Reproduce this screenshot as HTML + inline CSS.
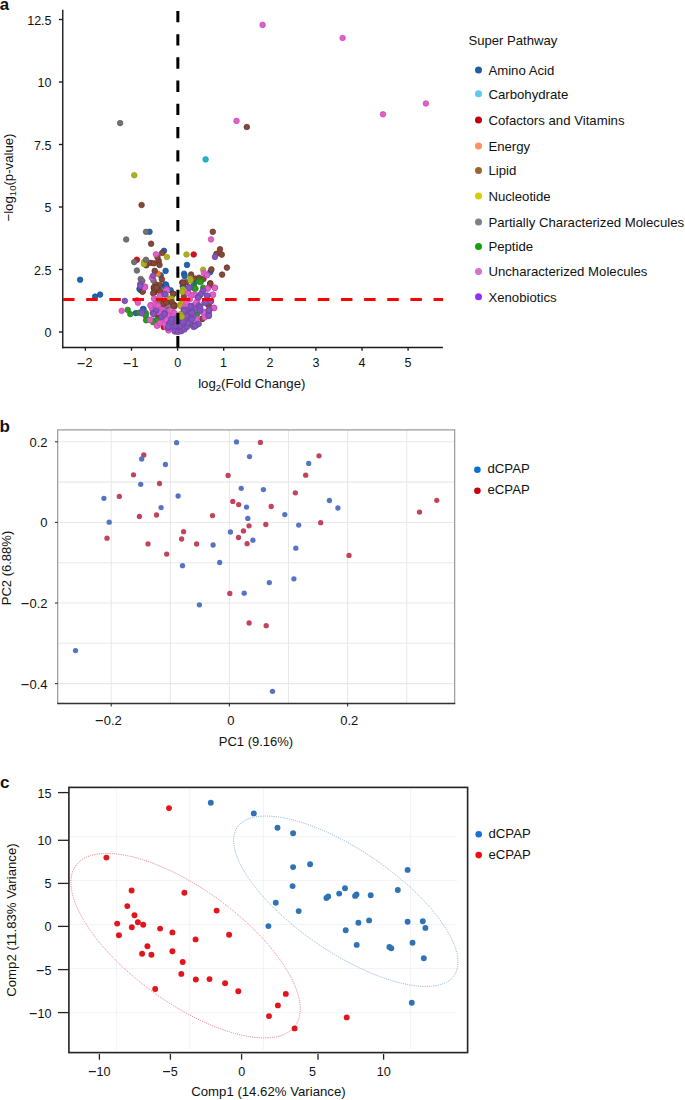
<!DOCTYPE html>
<html><head><meta charset="utf-8"><style>
html,body{margin:0;padding:0;background:#fff;}
svg{display:block;}
</style></head><body>
<svg width="685" height="1100" viewBox="0 0 685 1100" font-family='"Liberation Sans", sans-serif' fill="#111">
<rect width="685" height="1100" fill="#fff"/>
<text x="-0.35" y="10.11" font-size="16.8" font-weight="bold">a</text>
<line x1="62.75" y1="9.8" x2="62.75" y2="348.15" stroke="#2a2a2a" stroke-width="1.5"/>
<line x1="62.0" y1="347.4" x2="442.9" y2="347.4" stroke="#1a1a1a" stroke-width="1.5"/>
<line x1="58.9" y1="332.00" x2="62.75" y2="332.00" stroke="#1a1a1a" stroke-width="1.35"/>
<text x="44.56" y="337.48" font-size="12.5">0</text>
<line x1="58.9" y1="269.50" x2="62.75" y2="269.50" stroke="#1a1a1a" stroke-width="1.35"/>
<text x="34.12" y="274.98" font-size="12.5">2.5</text>
<line x1="58.9" y1="207.00" x2="62.75" y2="207.00" stroke="#1a1a1a" stroke-width="1.35"/>
<text x="44.56" y="212.47" font-size="12.5">5</text>
<line x1="58.9" y1="144.50" x2="62.75" y2="144.50" stroke="#1a1a1a" stroke-width="1.35"/>
<text x="34.12" y="149.97" font-size="12.5">7.5</text>
<line x1="58.9" y1="82.00" x2="62.75" y2="82.00" stroke="#1a1a1a" stroke-width="1.35"/>
<text x="37.62" y="87.47" font-size="12.5">10</text>
<line x1="58.9" y1="19.50" x2="62.75" y2="19.50" stroke="#1a1a1a" stroke-width="1.35"/>
<text x="27.19" y="24.98" font-size="12.5">12.5</text>
<line x1="85.40" y1="347.4" x2="85.40" y2="350.7" stroke="#1a1a1a" stroke-width="1.35"/>
<text x="85.43" y="367.48" font-size="12.5">2</text>
<rect x="77.58" y="363.05" width="7.10" height="1.15" fill="#111"/>
<line x1="131.50" y1="347.4" x2="131.50" y2="350.7" stroke="#1a1a1a" stroke-width="1.35"/>
<text x="131.43" y="367.48" font-size="12.5">1</text>
<rect x="123.58" y="363.05" width="7.10" height="1.15" fill="#111"/>
<line x1="177.60" y1="347.4" x2="177.60" y2="350.7" stroke="#1a1a1a" stroke-width="1.35"/>
<text x="174.28" y="367.48" font-size="12.5">0</text>
<line x1="223.70" y1="347.4" x2="223.70" y2="350.7" stroke="#1a1a1a" stroke-width="1.35"/>
<text x="220.03" y="367.48" font-size="12.5">1</text>
<line x1="269.80" y1="347.4" x2="269.80" y2="350.7" stroke="#1a1a1a" stroke-width="1.35"/>
<text x="266.53" y="367.48" font-size="12.5">2</text>
<line x1="315.90" y1="347.4" x2="315.90" y2="350.7" stroke="#1a1a1a" stroke-width="1.35"/>
<text x="312.53" y="367.48" font-size="12.5">3</text>
<line x1="362.00" y1="347.4" x2="362.00" y2="350.7" stroke="#1a1a1a" stroke-width="1.35"/>
<text x="358.53" y="367.48" font-size="12.5">4</text>
<line x1="408.10" y1="347.4" x2="408.10" y2="350.7" stroke="#1a1a1a" stroke-width="1.35"/>
<text x="404.53" y="367.48" font-size="12.5">5</text>
<text x="251.75" y="388.20" font-size="13.2" text-anchor="middle">log<tspan font-size="9.6" dy="3.2">2</tspan><tspan dy="-3.2">(Fold Change)</tspan></text>
<text transform="translate(12.60,177.50) rotate(-90)" font-size="13.2" text-anchor="middle">−log<tspan font-size="9.6" dy="3.2">10</tspan><tspan dy="-3.2">(p-value)</tspan></text>
<circle cx="80.1" cy="279.7" r="2.8" fill="#2264ac" stroke="#174f94" stroke-width="0.7"/>
<circle cx="95.1" cy="296.6" r="2.8" fill="#2264ac" stroke="#174f94" stroke-width="0.7"/>
<circle cx="100.1" cy="294.6" r="2.8" fill="#2264ac" stroke="#174f94" stroke-width="0.7"/>
<circle cx="149.5" cy="231.8" r="2.8" fill="#2264ac" stroke="#174f94" stroke-width="0.7"/>
<circle cx="164.0" cy="250.8" r="2.8" fill="#2264ac" stroke="#174f94" stroke-width="0.7"/>
<circle cx="165.6" cy="270.9" r="2.8" fill="#2264ac" stroke="#174f94" stroke-width="0.7"/>
<circle cx="160.7" cy="275.3" r="2.8" fill="#2264ac" stroke="#174f94" stroke-width="0.7"/>
<circle cx="165.2" cy="284.6" r="2.8" fill="#2264ac" stroke="#174f94" stroke-width="0.7"/>
<circle cx="166.8" cy="287.4" r="2.8" fill="#2264ac" stroke="#174f94" stroke-width="0.7"/>
<circle cx="139.5" cy="289.0" r="2.8" fill="#2264ac" stroke="#174f94" stroke-width="0.7"/>
<circle cx="187.0" cy="264.9" r="2.8" fill="#2264ac" stroke="#174f94" stroke-width="0.7"/>
<circle cx="210.3" cy="272.1" r="2.8" fill="#2264ac" stroke="#174f94" stroke-width="0.7"/>
<circle cx="184.1" cy="273.7" r="2.8" fill="#2264ac" stroke="#174f94" stroke-width="0.7"/>
<circle cx="184.6" cy="276.1" r="2.8" fill="#2264ac" stroke="#174f94" stroke-width="0.7"/>
<circle cx="183.0" cy="285.8" r="2.8" fill="#2264ac" stroke="#174f94" stroke-width="0.7"/>
<circle cx="135.8" cy="313.1" r="2.8" fill="#2264ac" stroke="#174f94" stroke-width="0.7"/>
<circle cx="143.1" cy="309.1" r="2.8" fill="#2264ac" stroke="#174f94" stroke-width="0.7"/>
<circle cx="140.7" cy="290.2" r="2.8" fill="#2264ac" stroke="#174f94" stroke-width="0.7"/>
<circle cx="140.4" cy="288.5" r="2.8" fill="#2264ac" stroke="#174f94" stroke-width="0.7"/>
<circle cx="158.8" cy="289.0" r="2.8" fill="#2264ac" stroke="#174f94" stroke-width="0.7"/>
<circle cx="164.5" cy="286.3" r="2.8" fill="#2264ac" stroke="#174f94" stroke-width="0.7"/>
<circle cx="159.7" cy="303.0" r="2.8" fill="#2264ac" stroke="#174f94" stroke-width="0.7"/>
<circle cx="143.5" cy="309.1" r="2.8" fill="#2264ac" stroke="#174f94" stroke-width="0.7"/>
<circle cx="166.0" cy="284.6" r="2.8" fill="#2264ac" stroke="#174f94" stroke-width="0.7"/>
<circle cx="170.6" cy="290.2" r="2.8" fill="#2264ac" stroke="#174f94" stroke-width="0.7"/>
<circle cx="182.9" cy="286.6" r="2.8" fill="#2264ac" stroke="#174f94" stroke-width="0.7"/>
<circle cx="194.1" cy="283.6" r="2.8" fill="#2264ac" stroke="#174f94" stroke-width="0.7"/>
<circle cx="205.6" cy="159.4" r="2.8" fill="#22b4cc" stroke="#12a0b8" stroke-width="0.7"/>
<circle cx="136.9" cy="259.7" r="2.8" fill="#d0141e" stroke="#b80010" stroke-width="0.7"/>
<circle cx="193.7" cy="254.5" r="2.8" fill="#d0141e" stroke="#b80010" stroke-width="0.7"/>
<circle cx="164.4" cy="326.8" r="2.8" fill="#d0141e" stroke="#b80010" stroke-width="0.7"/>
<circle cx="158.4" cy="313.9" r="2.8" fill="#d0141e" stroke="#b80010" stroke-width="0.7"/>
<circle cx="157.5" cy="315.5" r="2.8" fill="#d0141e" stroke="#b80010" stroke-width="0.7"/>
<circle cx="163.7" cy="326.9" r="2.8" fill="#d0141e" stroke="#b80010" stroke-width="0.7"/>
<circle cx="157.9" cy="273.7" r="2.8" fill="#f8801e" stroke="#e06a10" stroke-width="0.7"/>
<circle cx="246.8" cy="127.0" r="2.8" fill="#834a3c" stroke="#6a2c22" stroke-width="0.7"/>
<circle cx="141.6" cy="205.0" r="2.8" fill="#834a3c" stroke="#6a2c22" stroke-width="0.7"/>
<circle cx="151.1" cy="243.7" r="2.8" fill="#834a3c" stroke="#6a2c22" stroke-width="0.7"/>
<circle cx="162.1" cy="253.0" r="2.8" fill="#834a3c" stroke="#6a2c22" stroke-width="0.7"/>
<circle cx="146.3" cy="265.3" r="2.8" fill="#834a3c" stroke="#6a2c22" stroke-width="0.7"/>
<circle cx="150.7" cy="262.9" r="2.8" fill="#834a3c" stroke="#6a2c22" stroke-width="0.7"/>
<circle cx="153.9" cy="263.3" r="2.8" fill="#834a3c" stroke="#6a2c22" stroke-width="0.7"/>
<circle cx="158.7" cy="260.9" r="2.8" fill="#834a3c" stroke="#6a2c22" stroke-width="0.7"/>
<circle cx="159.5" cy="264.9" r="2.8" fill="#834a3c" stroke="#6a2c22" stroke-width="0.7"/>
<circle cx="157.5" cy="257.3" r="2.8" fill="#834a3c" stroke="#6a2c22" stroke-width="0.7"/>
<circle cx="154.7" cy="270.9" r="2.8" fill="#834a3c" stroke="#6a2c22" stroke-width="0.7"/>
<circle cx="161.9" cy="279.4" r="2.8" fill="#834a3c" stroke="#6a2c22" stroke-width="0.7"/>
<circle cx="155.5" cy="284.2" r="2.8" fill="#834a3c" stroke="#6a2c22" stroke-width="0.7"/>
<circle cx="153.9" cy="288.2" r="2.8" fill="#834a3c" stroke="#6a2c22" stroke-width="0.7"/>
<circle cx="159.5" cy="285.0" r="2.8" fill="#834a3c" stroke="#6a2c22" stroke-width="0.7"/>
<circle cx="212.8" cy="231.8" r="2.8" fill="#834a3c" stroke="#6a2c22" stroke-width="0.7"/>
<circle cx="220.0" cy="249.2" r="2.8" fill="#834a3c" stroke="#6a2c22" stroke-width="0.7"/>
<circle cx="216.4" cy="253.9" r="2.8" fill="#834a3c" stroke="#6a2c22" stroke-width="0.7"/>
<circle cx="221.8" cy="254.6" r="2.8" fill="#834a3c" stroke="#6a2c22" stroke-width="0.7"/>
<circle cx="226.9" cy="267.6" r="2.8" fill="#834a3c" stroke="#6a2c22" stroke-width="0.7"/>
<circle cx="222.1" cy="274.6" r="2.8" fill="#834a3c" stroke="#6a2c22" stroke-width="0.7"/>
<circle cx="211.4" cy="269.4" r="2.8" fill="#834a3c" stroke="#6a2c22" stroke-width="0.7"/>
<circle cx="191.1" cy="274.5" r="2.8" fill="#834a3c" stroke="#6a2c22" stroke-width="0.7"/>
<circle cx="195.1" cy="278.6" r="2.8" fill="#834a3c" stroke="#6a2c22" stroke-width="0.7"/>
<circle cx="199.1" cy="277.7" r="2.8" fill="#834a3c" stroke="#6a2c22" stroke-width="0.7"/>
<circle cx="203.5" cy="279.0" r="2.8" fill="#834a3c" stroke="#6a2c22" stroke-width="0.7"/>
<circle cx="182.2" cy="282.5" r="2.8" fill="#834a3c" stroke="#6a2c22" stroke-width="0.7"/>
<circle cx="186.2" cy="282.2" r="2.8" fill="#834a3c" stroke="#6a2c22" stroke-width="0.7"/>
<circle cx="210.3" cy="283.3" r="2.8" fill="#834a3c" stroke="#6a2c22" stroke-width="0.7"/>
<circle cx="154.7" cy="292.2" r="2.8" fill="#834a3c" stroke="#6a2c22" stroke-width="0.7"/>
<circle cx="153.9" cy="287.4" r="2.8" fill="#834a3c" stroke="#6a2c22" stroke-width="0.7"/>
<circle cx="160.3" cy="291.4" r="2.8" fill="#834a3c" stroke="#6a2c22" stroke-width="0.7"/>
<circle cx="173.2" cy="293.8" r="2.8" fill="#834a3c" stroke="#6a2c22" stroke-width="0.7"/>
<circle cx="173.2" cy="305.1" r="2.8" fill="#834a3c" stroke="#6a2c22" stroke-width="0.7"/>
<circle cx="162.8" cy="303.9" r="2.8" fill="#834a3c" stroke="#6a2c22" stroke-width="0.7"/>
<circle cx="142.7" cy="291.4" r="2.8" fill="#834a3c" stroke="#6a2c22" stroke-width="0.7"/>
<circle cx="210.2" cy="285.4" r="2.8" fill="#834a3c" stroke="#6a2c22" stroke-width="0.7"/>
<circle cx="207.8" cy="304.3" r="2.8" fill="#834a3c" stroke="#6a2c22" stroke-width="0.7"/>
<circle cx="202.5" cy="318.7" r="2.8" fill="#834a3c" stroke="#6a2c22" stroke-width="0.7"/>
<circle cx="174.0" cy="305.1" r="2.8" fill="#834a3c" stroke="#6a2c22" stroke-width="0.7"/>
<circle cx="142.6" cy="291.6" r="2.8" fill="#834a3c" stroke="#6a2c22" stroke-width="0.7"/>
<circle cx="154.5" cy="290.3" r="2.8" fill="#834a3c" stroke="#6a2c22" stroke-width="0.7"/>
<circle cx="153.1" cy="293.3" r="2.8" fill="#834a3c" stroke="#6a2c22" stroke-width="0.7"/>
<circle cx="156.6" cy="287.6" r="2.8" fill="#834a3c" stroke="#6a2c22" stroke-width="0.7"/>
<circle cx="161.9" cy="303.8" r="2.8" fill="#834a3c" stroke="#6a2c22" stroke-width="0.7"/>
<circle cx="174.2" cy="306.5" r="2.8" fill="#834a3c" stroke="#6a2c22" stroke-width="0.7"/>
<circle cx="173.2" cy="293.8" r="2.8" fill="#834a3c" stroke="#6a2c22" stroke-width="0.7"/>
<circle cx="174.7" cy="305.5" r="2.8" fill="#834a3c" stroke="#6a2c22" stroke-width="0.7"/>
<circle cx="182.9" cy="282.6" r="2.8" fill="#834a3c" stroke="#6a2c22" stroke-width="0.7"/>
<circle cx="183.9" cy="296.4" r="2.8" fill="#834a3c" stroke="#6a2c22" stroke-width="0.7"/>
<circle cx="210.3" cy="283.6" r="2.8" fill="#834a3c" stroke="#6a2c22" stroke-width="0.7"/>
<circle cx="208.8" cy="305.0" r="2.8" fill="#834a3c" stroke="#6a2c22" stroke-width="0.7"/>
<circle cx="202.3" cy="318.8" r="2.8" fill="#834a3c" stroke="#6a2c22" stroke-width="0.7"/>
<circle cx="134.3" cy="175.2" r="2.8" fill="#acb020" stroke="#989c10" stroke-width="0.7"/>
<circle cx="166.9" cy="257.0" r="2.8" fill="#acb020" stroke="#989c10" stroke-width="0.7"/>
<circle cx="144.3" cy="261.7" r="2.8" fill="#acb020" stroke="#989c10" stroke-width="0.7"/>
<circle cx="143.9" cy="264.1" r="2.8" fill="#acb020" stroke="#989c10" stroke-width="0.7"/>
<circle cx="186.5" cy="254.5" r="2.8" fill="#acb020" stroke="#989c10" stroke-width="0.7"/>
<circle cx="203.1" cy="269.7" r="2.8" fill="#acb020" stroke="#989c10" stroke-width="0.7"/>
<circle cx="190.4" cy="278.7" r="2.8" fill="#acb020" stroke="#989c10" stroke-width="0.7"/>
<circle cx="183.0" cy="289.4" r="2.8" fill="#acb020" stroke="#989c10" stroke-width="0.7"/>
<circle cx="170.8" cy="299.1" r="2.8" fill="#acb020" stroke="#989c10" stroke-width="0.7"/>
<circle cx="182.9" cy="291.4" r="2.8" fill="#acb020" stroke="#989c10" stroke-width="0.7"/>
<circle cx="171.6" cy="298.7" r="2.8" fill="#acb020" stroke="#989c10" stroke-width="0.7"/>
<circle cx="180.4" cy="304.3" r="2.8" fill="#acb020" stroke="#989c10" stroke-width="0.7"/>
<circle cx="181.2" cy="314.7" r="2.8" fill="#acb020" stroke="#989c10" stroke-width="0.7"/>
<circle cx="169.3" cy="298.6" r="2.8" fill="#acb020" stroke="#989c10" stroke-width="0.7"/>
<circle cx="180.3" cy="314.2" r="2.8" fill="#acb020" stroke="#989c10" stroke-width="0.7"/>
<circle cx="175.2" cy="315.2" r="2.8" fill="#acb020" stroke="#989c10" stroke-width="0.7"/>
<circle cx="181.4" cy="306.0" r="2.8" fill="#acb020" stroke="#989c10" stroke-width="0.7"/>
<circle cx="170.6" cy="298.9" r="2.8" fill="#acb020" stroke="#989c10" stroke-width="0.7"/>
<circle cx="190.5" cy="280.5" r="2.8" fill="#acb020" stroke="#989c10" stroke-width="0.7"/>
<circle cx="182.4" cy="291.8" r="2.8" fill="#acb020" stroke="#989c10" stroke-width="0.7"/>
<circle cx="181.9" cy="303.5" r="2.8" fill="#acb020" stroke="#989c10" stroke-width="0.7"/>
<circle cx="180.8" cy="306.1" r="2.8" fill="#acb020" stroke="#989c10" stroke-width="0.7"/>
<circle cx="120.1" cy="123.1" r="2.8" fill="#727272" stroke="#5a5a5a" stroke-width="0.7"/>
<circle cx="126.2" cy="239.5" r="2.8" fill="#727272" stroke="#5a5a5a" stroke-width="0.7"/>
<circle cx="146.0" cy="231.8" r="2.8" fill="#727272" stroke="#5a5a5a" stroke-width="0.7"/>
<circle cx="134.2" cy="262.1" r="2.8" fill="#727272" stroke="#5a5a5a" stroke-width="0.7"/>
<circle cx="146.0" cy="259.7" r="2.8" fill="#727272" stroke="#5a5a5a" stroke-width="0.7"/>
<circle cx="136.9" cy="270.5" r="2.8" fill="#727272" stroke="#5a5a5a" stroke-width="0.7"/>
<circle cx="153.5" cy="280.6" r="2.8" fill="#727272" stroke="#5a5a5a" stroke-width="0.7"/>
<circle cx="140.7" cy="279.0" r="2.8" fill="#727272" stroke="#5a5a5a" stroke-width="0.7"/>
<circle cx="142.3" cy="281.0" r="2.8" fill="#727272" stroke="#5a5a5a" stroke-width="0.7"/>
<circle cx="127.7" cy="309.9" r="2.8" fill="#2c9a24" stroke="#208418" stroke-width="0.7"/>
<circle cx="130.3" cy="314.1" r="2.8" fill="#2c9a24" stroke="#208418" stroke-width="0.7"/>
<circle cx="200.7" cy="281.3" r="2.8" fill="#2c9a24" stroke="#208418" stroke-width="0.7"/>
<circle cx="193.9" cy="287.0" r="2.8" fill="#2c9a24" stroke="#208418" stroke-width="0.7"/>
<circle cx="139.1" cy="312.7" r="2.8" fill="#2c9a24" stroke="#208418" stroke-width="0.7"/>
<circle cx="145.5" cy="315.1" r="2.8" fill="#2c9a24" stroke="#208418" stroke-width="0.7"/>
<circle cx="146.7" cy="319.5" r="2.8" fill="#2c9a24" stroke="#208418" stroke-width="0.7"/>
<circle cx="153.1" cy="320.7" r="2.8" fill="#2c9a24" stroke="#208418" stroke-width="0.7"/>
<circle cx="157.1" cy="320.3" r="2.8" fill="#2c9a24" stroke="#208418" stroke-width="0.7"/>
<circle cx="165.2" cy="304.7" r="2.8" fill="#2c9a24" stroke="#208418" stroke-width="0.7"/>
<circle cx="194.1" cy="288.2" r="2.8" fill="#2c9a24" stroke="#208418" stroke-width="0.7"/>
<circle cx="165.4" cy="303.4" r="2.8" fill="#2c9a24" stroke="#208418" stroke-width="0.7"/>
<circle cx="158.8" cy="301.6" r="2.8" fill="#2c9a24" stroke="#208418" stroke-width="0.7"/>
<circle cx="168.0" cy="308.7" r="2.8" fill="#2c9a24" stroke="#208418" stroke-width="0.7"/>
<circle cx="145.7" cy="313.0" r="2.8" fill="#2c9a24" stroke="#208418" stroke-width="0.7"/>
<circle cx="145.7" cy="315.5" r="2.8" fill="#2c9a24" stroke="#208418" stroke-width="0.7"/>
<circle cx="146.1" cy="320.3" r="2.8" fill="#2c9a24" stroke="#208418" stroke-width="0.7"/>
<circle cx="156.2" cy="320.8" r="2.8" fill="#2c9a24" stroke="#208418" stroke-width="0.7"/>
<circle cx="153.1" cy="322.1" r="2.8" fill="#2c9a24" stroke="#208418" stroke-width="0.7"/>
<circle cx="169.6" cy="308.6" r="2.8" fill="#2c9a24" stroke="#208418" stroke-width="0.7"/>
<circle cx="196.7" cy="314.7" r="2.8" fill="#2c9a24" stroke="#208418" stroke-width="0.7"/>
<circle cx="191.6" cy="324.4" r="2.8" fill="#2c9a24" stroke="#208418" stroke-width="0.7"/>
<circle cx="182.4" cy="317.8" r="2.8" fill="#2c9a24" stroke="#208418" stroke-width="0.7"/>
<circle cx="194.1" cy="288.2" r="2.8" fill="#2c9a24" stroke="#208418" stroke-width="0.7"/>
<circle cx="198.7" cy="281.5" r="2.8" fill="#2c9a24" stroke="#208418" stroke-width="0.7"/>
<circle cx="200.6" cy="282.0" r="2.8" fill="#2c9a24" stroke="#208418" stroke-width="0.7"/>
<circle cx="195.5" cy="288.7" r="2.8" fill="#2c9a24" stroke="#208418" stroke-width="0.7"/>
<circle cx="203.2" cy="287.7" r="2.8" fill="#2c9a24" stroke="#208418" stroke-width="0.7"/>
<circle cx="196.6" cy="314.7" r="2.8" fill="#2c9a24" stroke="#208418" stroke-width="0.7"/>
<circle cx="191.5" cy="324.4" r="2.8" fill="#2c9a24" stroke="#208418" stroke-width="0.7"/>
<circle cx="262.6" cy="24.9" r="2.8" fill="#dc62c6" stroke="#cc44b4" stroke-width="0.7"/>
<circle cx="342.6" cy="38.0" r="2.8" fill="#dc62c6" stroke="#cc44b4" stroke-width="0.7"/>
<circle cx="383.0" cy="114.3" r="2.8" fill="#dc62c6" stroke="#cc44b4" stroke-width="0.7"/>
<circle cx="425.9" cy="103.5" r="2.8" fill="#dc62c6" stroke="#cc44b4" stroke-width="0.7"/>
<circle cx="236.5" cy="120.9" r="2.8" fill="#dc62c6" stroke="#cc44b4" stroke-width="0.7"/>
<circle cx="121.7" cy="310.8" r="2.8" fill="#dc62c6" stroke="#cc44b4" stroke-width="0.7"/>
<circle cx="155.9" cy="254.3" r="2.8" fill="#dc62c6" stroke="#cc44b4" stroke-width="0.7"/>
<circle cx="151.9" cy="277.8" r="2.8" fill="#dc62c6" stroke="#cc44b4" stroke-width="0.7"/>
<circle cx="145.1" cy="286.6" r="2.8" fill="#dc62c6" stroke="#cc44b4" stroke-width="0.7"/>
<circle cx="166.8" cy="289.4" r="2.8" fill="#dc62c6" stroke="#cc44b4" stroke-width="0.7"/>
<circle cx="211.0" cy="239.4" r="2.8" fill="#dc62c6" stroke="#cc44b4" stroke-width="0.7"/>
<circle cx="203.9" cy="272.9" r="2.8" fill="#dc62c6" stroke="#cc44b4" stroke-width="0.7"/>
<circle cx="207.1" cy="275.3" r="2.8" fill="#dc62c6" stroke="#cc44b4" stroke-width="0.7"/>
<circle cx="207.4" cy="288.2" r="2.8" fill="#dc62c6" stroke="#cc44b4" stroke-width="0.7"/>
<circle cx="214.9" cy="287.6" r="2.8" fill="#dc62c6" stroke="#cc44b4" stroke-width="0.7"/>
<circle cx="137.0" cy="300.3" r="2.8" fill="#dc62c6" stroke="#cc44b4" stroke-width="0.7"/>
<circle cx="137.9" cy="302.7" r="2.8" fill="#dc62c6" stroke="#cc44b4" stroke-width="0.7"/>
<circle cx="149.9" cy="319.9" r="2.8" fill="#dc62c6" stroke="#cc44b4" stroke-width="0.7"/>
<circle cx="157.1" cy="325.6" r="2.8" fill="#dc62c6" stroke="#cc44b4" stroke-width="0.7"/>
<circle cx="150.7" cy="305.1" r="2.8" fill="#dc62c6" stroke="#cc44b4" stroke-width="0.7"/>
<circle cx="154.7" cy="299.1" r="2.8" fill="#dc62c6" stroke="#cc44b4" stroke-width="0.7"/>
<circle cx="158.7" cy="305.9" r="2.8" fill="#dc62c6" stroke="#cc44b4" stroke-width="0.7"/>
<circle cx="160.3" cy="296.2" r="2.8" fill="#dc62c6" stroke="#cc44b4" stroke-width="0.7"/>
<circle cx="166.8" cy="290.2" r="2.8" fill="#dc62c6" stroke="#cc44b4" stroke-width="0.7"/>
<circle cx="168.0" cy="303.9" r="2.8" fill="#dc62c6" stroke="#cc44b4" stroke-width="0.7"/>
<circle cx="161.9" cy="316.3" r="2.8" fill="#dc62c6" stroke="#cc44b4" stroke-width="0.7"/>
<circle cx="170.0" cy="312.3" r="2.8" fill="#dc62c6" stroke="#cc44b4" stroke-width="0.7"/>
<circle cx="173.2" cy="312.3" r="2.8" fill="#dc62c6" stroke="#cc44b4" stroke-width="0.7"/>
<circle cx="166.0" cy="319.5" r="2.8" fill="#dc62c6" stroke="#cc44b4" stroke-width="0.7"/>
<circle cx="144.7" cy="287.4" r="2.8" fill="#dc62c6" stroke="#cc44b4" stroke-width="0.7"/>
<circle cx="188.5" cy="293.0" r="2.8" fill="#dc62c6" stroke="#cc44b4" stroke-width="0.7"/>
<circle cx="194.1" cy="294.6" r="2.8" fill="#dc62c6" stroke="#cc44b4" stroke-width="0.7"/>
<circle cx="213.0" cy="294.6" r="2.8" fill="#dc62c6" stroke="#cc44b4" stroke-width="0.7"/>
<circle cx="214.2" cy="307.9" r="2.8" fill="#dc62c6" stroke="#cc44b4" stroke-width="0.7"/>
<circle cx="203.7" cy="313.1" r="2.8" fill="#dc62c6" stroke="#cc44b4" stroke-width="0.7"/>
<circle cx="197.3" cy="301.1" r="2.8" fill="#dc62c6" stroke="#cc44b4" stroke-width="0.7"/>
<circle cx="194.1" cy="305.1" r="2.8" fill="#dc62c6" stroke="#cc44b4" stroke-width="0.7"/>
<circle cx="172.4" cy="312.3" r="2.8" fill="#dc62c6" stroke="#cc44b4" stroke-width="0.7"/>
<circle cx="184.5" cy="307.5" r="2.8" fill="#dc62c6" stroke="#cc44b4" stroke-width="0.7"/>
<circle cx="195.7" cy="318.7" r="2.8" fill="#dc62c6" stroke="#cc44b4" stroke-width="0.7"/>
<circle cx="144.8" cy="287.4" r="2.8" fill="#dc62c6" stroke="#cc44b4" stroke-width="0.7"/>
<circle cx="166.3" cy="290.3" r="2.8" fill="#dc62c6" stroke="#cc44b4" stroke-width="0.7"/>
<circle cx="160.1" cy="296.0" r="2.8" fill="#dc62c6" stroke="#cc44b4" stroke-width="0.7"/>
<circle cx="154.0" cy="298.6" r="2.8" fill="#dc62c6" stroke="#cc44b4" stroke-width="0.7"/>
<circle cx="151.0" cy="305.6" r="2.8" fill="#dc62c6" stroke="#cc44b4" stroke-width="0.7"/>
<circle cx="154.9" cy="304.7" r="2.8" fill="#dc62c6" stroke="#cc44b4" stroke-width="0.7"/>
<circle cx="158.4" cy="306.0" r="2.8" fill="#dc62c6" stroke="#cc44b4" stroke-width="0.7"/>
<circle cx="167.2" cy="304.3" r="2.8" fill="#dc62c6" stroke="#cc44b4" stroke-width="0.7"/>
<circle cx="162.8" cy="309.5" r="2.8" fill="#dc62c6" stroke="#cc44b4" stroke-width="0.7"/>
<circle cx="158.8" cy="312.2" r="2.8" fill="#dc62c6" stroke="#cc44b4" stroke-width="0.7"/>
<circle cx="168.5" cy="312.2" r="2.8" fill="#dc62c6" stroke="#cc44b4" stroke-width="0.7"/>
<circle cx="152.0" cy="308.5" r="2.8" fill="#dc62c6" stroke="#cc44b4" stroke-width="0.7"/>
<circle cx="156.0" cy="308.0" r="2.8" fill="#dc62c6" stroke="#cc44b4" stroke-width="0.7"/>
<circle cx="160.5" cy="306.5" r="2.8" fill="#dc62c6" stroke="#cc44b4" stroke-width="0.7"/>
<circle cx="150.1" cy="319.9" r="2.8" fill="#dc62c6" stroke="#cc44b4" stroke-width="0.7"/>
<circle cx="157.1" cy="325.6" r="2.8" fill="#dc62c6" stroke="#cc44b4" stroke-width="0.7"/>
<circle cx="163.2" cy="320.8" r="2.8" fill="#dc62c6" stroke="#cc44b4" stroke-width="0.7"/>
<circle cx="167.2" cy="317.7" r="2.8" fill="#dc62c6" stroke="#cc44b4" stroke-width="0.7"/>
<circle cx="166.3" cy="327.3" r="2.8" fill="#dc62c6" stroke="#cc44b4" stroke-width="0.7"/>
<circle cx="168.5" cy="330.4" r="2.8" fill="#dc62c6" stroke="#cc44b4" stroke-width="0.7"/>
<circle cx="160.0" cy="323.0" r="2.8" fill="#dc62c6" stroke="#cc44b4" stroke-width="0.7"/>
<circle cx="165.0" cy="324.0" r="2.8" fill="#dc62c6" stroke="#cc44b4" stroke-width="0.7"/>
<circle cx="166.0" cy="312.0" r="2.8" fill="#dc62c6" stroke="#cc44b4" stroke-width="0.7"/>
<circle cx="168.5" cy="316.0" r="2.8" fill="#dc62c6" stroke="#cc44b4" stroke-width="0.7"/>
<circle cx="166.5" cy="320.0" r="2.8" fill="#dc62c6" stroke="#cc44b4" stroke-width="0.7"/>
<circle cx="170.5" cy="310.5" r="2.8" fill="#dc62c6" stroke="#cc44b4" stroke-width="0.7"/>
<circle cx="174.5" cy="313.0" r="2.8" fill="#dc62c6" stroke="#cc44b4" stroke-width="0.7"/>
<circle cx="172.5" cy="316.5" r="2.8" fill="#dc62c6" stroke="#cc44b4" stroke-width="0.7"/>
<circle cx="167.0" cy="290.2" r="2.8" fill="#dc62c6" stroke="#cc44b4" stroke-width="0.7"/>
<circle cx="168.1" cy="303.5" r="2.8" fill="#dc62c6" stroke="#cc44b4" stroke-width="0.7"/>
<circle cx="188.0" cy="293.3" r="2.8" fill="#dc62c6" stroke="#cc44b4" stroke-width="0.7"/>
<circle cx="193.6" cy="294.8" r="2.8" fill="#dc62c6" stroke="#cc44b4" stroke-width="0.7"/>
<circle cx="186.5" cy="302.5" r="2.8" fill="#dc62c6" stroke="#cc44b4" stroke-width="0.7"/>
<circle cx="190.0" cy="299.0" r="2.8" fill="#dc62c6" stroke="#cc44b4" stroke-width="0.7"/>
<circle cx="207.8" cy="288.7" r="2.8" fill="#dc62c6" stroke="#cc44b4" stroke-width="0.7"/>
<circle cx="214.9" cy="287.9" r="2.8" fill="#dc62c6" stroke="#cc44b4" stroke-width="0.7"/>
<circle cx="212.9" cy="294.8" r="2.8" fill="#dc62c6" stroke="#cc44b4" stroke-width="0.7"/>
<circle cx="213.9" cy="307.8" r="2.8" fill="#dc62c6" stroke="#cc44b4" stroke-width="0.7"/>
<circle cx="196.0" cy="295.3" r="2.8" fill="#dc62c6" stroke="#cc44b4" stroke-width="0.7"/>
<circle cx="196.0" cy="303.0" r="2.8" fill="#dc62c6" stroke="#cc44b4" stroke-width="0.7"/>
<circle cx="203.7" cy="311.7" r="2.8" fill="#dc62c6" stroke="#cc44b4" stroke-width="0.7"/>
<circle cx="203.3" cy="312.7" r="2.8" fill="#dc62c6" stroke="#cc44b4" stroke-width="0.7"/>
<circle cx="196.6" cy="318.8" r="2.8" fill="#dc62c6" stroke="#cc44b4" stroke-width="0.7"/>
<circle cx="204.8" cy="317.3" r="2.8" fill="#dc62c6" stroke="#cc44b4" stroke-width="0.7"/>
<circle cx="214.0" cy="308.1" r="2.8" fill="#dc62c6" stroke="#cc44b4" stroke-width="0.7"/>
<circle cx="124.8" cy="300.9" r="2.8" fill="#8456bc" stroke="#7040a8" stroke-width="0.7"/>
<circle cx="153.1" cy="275.7" r="2.8" fill="#8456bc" stroke="#7040a8" stroke-width="0.7"/>
<circle cx="140.3" cy="284.0" r="2.8" fill="#8456bc" stroke="#7040a8" stroke-width="0.7"/>
<circle cx="214.9" cy="256.9" r="2.8" fill="#8456bc" stroke="#7040a8" stroke-width="0.7"/>
<circle cx="189.5" cy="287.4" r="2.8" fill="#8456bc" stroke="#7040a8" stroke-width="0.7"/>
<circle cx="141.5" cy="312.3" r="2.8" fill="#8456bc" stroke="#7040a8" stroke-width="0.7"/>
<circle cx="153.9" cy="313.5" r="2.8" fill="#8456bc" stroke="#7040a8" stroke-width="0.7"/>
<circle cx="156.3" cy="310.7" r="2.8" fill="#8456bc" stroke="#7040a8" stroke-width="0.7"/>
<circle cx="164.8" cy="294.2" r="2.8" fill="#8456bc" stroke="#7040a8" stroke-width="0.7"/>
<circle cx="161.5" cy="317.1" r="2.8" fill="#8456bc" stroke="#7040a8" stroke-width="0.7"/>
<circle cx="164.8" cy="313.9" r="2.8" fill="#8456bc" stroke="#7040a8" stroke-width="0.7"/>
<circle cx="140.3" cy="285.8" r="2.8" fill="#8456bc" stroke="#7040a8" stroke-width="0.7"/>
<circle cx="189.3" cy="287.8" r="2.8" fill="#8456bc" stroke="#7040a8" stroke-width="0.7"/>
<circle cx="198.1" cy="297.0" r="2.8" fill="#8456bc" stroke="#7040a8" stroke-width="0.7"/>
<circle cx="202.1" cy="292.2" r="2.8" fill="#8456bc" stroke="#7040a8" stroke-width="0.7"/>
<circle cx="200.5" cy="294.6" r="2.8" fill="#8456bc" stroke="#7040a8" stroke-width="0.7"/>
<circle cx="207.3" cy="295.8" r="2.8" fill="#8456bc" stroke="#7040a8" stroke-width="0.7"/>
<circle cx="204.5" cy="302.7" r="2.8" fill="#8456bc" stroke="#7040a8" stroke-width="0.7"/>
<circle cx="211.0" cy="301.1" r="2.8" fill="#8456bc" stroke="#7040a8" stroke-width="0.7"/>
<circle cx="209.4" cy="309.9" r="2.8" fill="#8456bc" stroke="#7040a8" stroke-width="0.7"/>
<circle cx="208.6" cy="315.9" r="2.8" fill="#8456bc" stroke="#7040a8" stroke-width="0.7"/>
<circle cx="199.7" cy="308.3" r="2.8" fill="#8456bc" stroke="#7040a8" stroke-width="0.7"/>
<circle cx="197.3" cy="324.4" r="2.8" fill="#8456bc" stroke="#7040a8" stroke-width="0.7"/>
<circle cx="194.9" cy="326.0" r="2.8" fill="#8456bc" stroke="#7040a8" stroke-width="0.7"/>
<circle cx="190.9" cy="305.9" r="2.8" fill="#8456bc" stroke="#7040a8" stroke-width="0.7"/>
<circle cx="183.7" cy="309.9" r="2.8" fill="#8456bc" stroke="#7040a8" stroke-width="0.7"/>
<circle cx="188.5" cy="311.5" r="2.8" fill="#8456bc" stroke="#7040a8" stroke-width="0.7"/>
<circle cx="192.5" cy="310.7" r="2.8" fill="#8456bc" stroke="#7040a8" stroke-width="0.7"/>
<circle cx="187.7" cy="316.3" r="2.8" fill="#8456bc" stroke="#7040a8" stroke-width="0.7"/>
<circle cx="191.7" cy="317.1" r="2.8" fill="#8456bc" stroke="#7040a8" stroke-width="0.7"/>
<circle cx="182.0" cy="321.1" r="2.8" fill="#8456bc" stroke="#7040a8" stroke-width="0.7"/>
<circle cx="174.0" cy="321.1" r="2.8" fill="#8456bc" stroke="#7040a8" stroke-width="0.7"/>
<circle cx="172.4" cy="326.8" r="2.8" fill="#8456bc" stroke="#7040a8" stroke-width="0.7"/>
<circle cx="178.0" cy="330.0" r="2.8" fill="#8456bc" stroke="#7040a8" stroke-width="0.7"/>
<circle cx="184.5" cy="326.8" r="2.8" fill="#8456bc" stroke="#7040a8" stroke-width="0.7"/>
<circle cx="169.5" cy="323.5" r="2.8" fill="#8456bc" stroke="#7040a8" stroke-width="0.7"/>
<circle cx="176.0" cy="325.5" r="2.8" fill="#8456bc" stroke="#7040a8" stroke-width="0.7"/>
<circle cx="181.0" cy="331.0" r="2.8" fill="#8456bc" stroke="#7040a8" stroke-width="0.7"/>
<circle cx="186.0" cy="322.0" r="2.8" fill="#8456bc" stroke="#7040a8" stroke-width="0.7"/>
<circle cx="179.5" cy="320.0" r="2.8" fill="#8456bc" stroke="#7040a8" stroke-width="0.7"/>
<circle cx="175.0" cy="331.5" r="2.8" fill="#8456bc" stroke="#7040a8" stroke-width="0.7"/>
<circle cx="168.0" cy="328.0" r="2.8" fill="#8456bc" stroke="#7040a8" stroke-width="0.7"/>
<circle cx="190.0" cy="322.5" r="2.8" fill="#8456bc" stroke="#7040a8" stroke-width="0.7"/>
<circle cx="207.3" cy="296.0" r="2.8" fill="#8456bc" stroke="#7040a8" stroke-width="0.7"/>
<circle cx="210.8" cy="301.2" r="2.8" fill="#8456bc" stroke="#7040a8" stroke-width="0.7"/>
<circle cx="164.7" cy="294.4" r="2.8" fill="#8456bc" stroke="#7040a8" stroke-width="0.7"/>
<circle cx="155.8" cy="310.4" r="2.8" fill="#8456bc" stroke="#7040a8" stroke-width="0.7"/>
<circle cx="152.7" cy="313.0" r="2.8" fill="#8456bc" stroke="#7040a8" stroke-width="0.7"/>
<circle cx="164.5" cy="313.0" r="2.8" fill="#8456bc" stroke="#7040a8" stroke-width="0.7"/>
<circle cx="142.2" cy="311.7" r="2.8" fill="#8456bc" stroke="#7040a8" stroke-width="0.7"/>
<circle cx="141.8" cy="313.3" r="2.8" fill="#8456bc" stroke="#7040a8" stroke-width="0.7"/>
<circle cx="153.6" cy="314.2" r="2.8" fill="#8456bc" stroke="#7040a8" stroke-width="0.7"/>
<circle cx="161.9" cy="316.4" r="2.8" fill="#8456bc" stroke="#7040a8" stroke-width="0.7"/>
<circle cx="164.5" cy="314.2" r="2.8" fill="#8456bc" stroke="#7040a8" stroke-width="0.7"/>
<circle cx="168.9" cy="324.3" r="2.8" fill="#8456bc" stroke="#7040a8" stroke-width="0.7"/>
<circle cx="170.5" cy="322.0" r="2.8" fill="#8456bc" stroke="#7040a8" stroke-width="0.7"/>
<circle cx="172.0" cy="327.0" r="2.8" fill="#8456bc" stroke="#7040a8" stroke-width="0.7"/>
<circle cx="174.5" cy="331.0" r="2.8" fill="#8456bc" stroke="#7040a8" stroke-width="0.7"/>
<circle cx="178.0" cy="332.0" r="2.8" fill="#8456bc" stroke="#7040a8" stroke-width="0.7"/>
<circle cx="181.5" cy="331.0" r="2.8" fill="#8456bc" stroke="#7040a8" stroke-width="0.7"/>
<circle cx="184.5" cy="329.5" r="2.8" fill="#8456bc" stroke="#7040a8" stroke-width="0.7"/>
<circle cx="187.0" cy="327.0" r="2.8" fill="#8456bc" stroke="#7040a8" stroke-width="0.7"/>
<circle cx="188.0" cy="323.0" r="2.8" fill="#8456bc" stroke="#7040a8" stroke-width="0.7"/>
<circle cx="185.0" cy="319.5" r="2.8" fill="#8456bc" stroke="#7040a8" stroke-width="0.7"/>
<circle cx="181.0" cy="318.5" r="2.8" fill="#8456bc" stroke="#7040a8" stroke-width="0.7"/>
<circle cx="176.0" cy="318.5" r="2.8" fill="#8456bc" stroke="#7040a8" stroke-width="0.7"/>
<circle cx="171.5" cy="319.0" r="2.8" fill="#8456bc" stroke="#7040a8" stroke-width="0.7"/>
<circle cx="168.5" cy="326.5" r="2.8" fill="#8456bc" stroke="#7040a8" stroke-width="0.7"/>
<circle cx="176.0" cy="326.0" r="2.8" fill="#8456bc" stroke="#7040a8" stroke-width="0.7"/>
<circle cx="180.0" cy="325.0" r="2.8" fill="#8456bc" stroke="#7040a8" stroke-width="0.7"/>
<circle cx="183.0" cy="322.0" r="2.8" fill="#8456bc" stroke="#7040a8" stroke-width="0.7"/>
<circle cx="184.0" cy="312.5" r="2.8" fill="#8456bc" stroke="#7040a8" stroke-width="0.7"/>
<circle cx="187.0" cy="310.0" r="2.8" fill="#8456bc" stroke="#7040a8" stroke-width="0.7"/>
<circle cx="190.5" cy="313.0" r="2.8" fill="#8456bc" stroke="#7040a8" stroke-width="0.7"/>
<circle cx="193.5" cy="316.0" r="2.8" fill="#8456bc" stroke="#7040a8" stroke-width="0.7"/>
<circle cx="191.0" cy="319.0" r="2.8" fill="#8456bc" stroke="#7040a8" stroke-width="0.7"/>
<circle cx="186.5" cy="316.0" r="2.8" fill="#8456bc" stroke="#7040a8" stroke-width="0.7"/>
<circle cx="193.6" cy="327.0" r="2.8" fill="#8456bc" stroke="#7040a8" stroke-width="0.7"/>
<circle cx="195.7" cy="325.4" r="2.8" fill="#8456bc" stroke="#7040a8" stroke-width="0.7"/>
<circle cx="165.5" cy="294.3" r="2.8" fill="#8456bc" stroke="#7040a8" stroke-width="0.7"/>
<circle cx="189.0" cy="287.7" r="2.8" fill="#8456bc" stroke="#7040a8" stroke-width="0.7"/>
<circle cx="198.7" cy="296.9" r="2.8" fill="#8456bc" stroke="#7040a8" stroke-width="0.7"/>
<circle cx="190.5" cy="306.6" r="2.8" fill="#8456bc" stroke="#7040a8" stroke-width="0.7"/>
<circle cx="184.4" cy="310.7" r="2.8" fill="#8456bc" stroke="#7040a8" stroke-width="0.7"/>
<circle cx="195.7" cy="308.6" r="2.8" fill="#8456bc" stroke="#7040a8" stroke-width="0.7"/>
<circle cx="198.7" cy="305.5" r="2.8" fill="#8456bc" stroke="#7040a8" stroke-width="0.7"/>
<circle cx="203.2" cy="290.7" r="2.8" fill="#8456bc" stroke="#7040a8" stroke-width="0.7"/>
<circle cx="200.6" cy="294.3" r="2.8" fill="#8456bc" stroke="#7040a8" stroke-width="0.7"/>
<circle cx="198.1" cy="297.4" r="2.8" fill="#8456bc" stroke="#7040a8" stroke-width="0.7"/>
<circle cx="207.3" cy="295.8" r="2.8" fill="#8456bc" stroke="#7040a8" stroke-width="0.7"/>
<circle cx="205.2" cy="302.5" r="2.8" fill="#8456bc" stroke="#7040a8" stroke-width="0.7"/>
<circle cx="210.8" cy="301.5" r="2.8" fill="#8456bc" stroke="#7040a8" stroke-width="0.7"/>
<circle cx="200.1" cy="306.6" r="2.8" fill="#8456bc" stroke="#7040a8" stroke-width="0.7"/>
<circle cx="200.1" cy="310.7" r="2.8" fill="#8456bc" stroke="#7040a8" stroke-width="0.7"/>
<circle cx="208.8" cy="309.6" r="2.8" fill="#8456bc" stroke="#7040a8" stroke-width="0.7"/>
<circle cx="208.8" cy="313.2" r="2.8" fill="#8456bc" stroke="#7040a8" stroke-width="0.7"/>
<circle cx="192.0" cy="312.7" r="2.8" fill="#8456bc" stroke="#7040a8" stroke-width="0.7"/>
<circle cx="192.0" cy="319.3" r="2.8" fill="#8456bc" stroke="#7040a8" stroke-width="0.7"/>
<circle cx="200.2" cy="308.1" r="2.8" fill="#8456bc" stroke="#7040a8" stroke-width="0.7"/>
<circle cx="200.2" cy="310.6" r="2.8" fill="#8456bc" stroke="#7040a8" stroke-width="0.7"/>
<circle cx="208.9" cy="310.1" r="2.8" fill="#8456bc" stroke="#7040a8" stroke-width="0.7"/>
<circle cx="208.9" cy="315.7" r="2.8" fill="#8456bc" stroke="#7040a8" stroke-width="0.7"/>
<circle cx="198.7" cy="323.9" r="2.8" fill="#8456bc" stroke="#7040a8" stroke-width="0.7"/>
<circle cx="195.1" cy="326.0" r="2.8" fill="#8456bc" stroke="#7040a8" stroke-width="0.7"/>
<circle cx="163.3" cy="303.9" r="2.8" fill="#834a3c" stroke="#6a2c22" stroke-width="0.7"/>
<circle cx="171.8" cy="302.2" r="2.8" fill="#834a3c" stroke="#6a2c22" stroke-width="0.7"/>
<circle cx="173.7" cy="305.6" r="2.8" fill="#834a3c" stroke="#6a2c22" stroke-width="0.7"/>
<circle cx="166.5" cy="302.5" r="2.8" fill="#834a3c" stroke="#6a2c22" stroke-width="0.7"/>
<circle cx="180.6" cy="314.6" r="2.8" fill="#acb020" stroke="#989c10" stroke-width="0.7"/>
<circle cx="181.8" cy="316.8" r="2.8" fill="#acb020" stroke="#989c10" stroke-width="0.7"/>
<circle cx="158.0" cy="305.5" r="2.8" fill="#dc62c6" stroke="#cc44b4" stroke-width="0.7"/>
<circle cx="150.5" cy="305.5" r="2.8" fill="#dc62c6" stroke="#cc44b4" stroke-width="0.7"/>
<line x1="63" y1="299.55" x2="443" y2="299.55" stroke="#ff0000" stroke-width="2.9" stroke-dasharray="11.5 11.66"/>
<line x1="177.85" y1="10.9" x2="177.85" y2="347.3" stroke="#000" stroke-width="3.0" stroke-dasharray="11.3 11.93"/>
<text x="468.50" y="45.38" font-size="13.1">Super Pathway</text>
<circle cx="478.5" cy="70.07" r="3.5" fill="#1f5fa0"/>
<text x="488.40" y="74.93" font-size="13.2">Amino Acid</text>
<circle cx="478.5" cy="93.82" r="3.5" fill="#5ac8f0"/>
<text x="488.40" y="98.68" font-size="13.2">Carbohydrate</text>
<circle cx="478.5" cy="119.92" r="3.5" fill="#c00010"/>
<text x="488.40" y="124.78" font-size="13.2">Cofactors and Vitamins</text>
<circle cx="478.5" cy="146.02" r="3.5" fill="#ff9060"/>
<text x="488.40" y="150.88" font-size="13.2">Energy</text>
<circle cx="478.5" cy="170.57" r="3.5" fill="#a06030"/>
<text x="488.40" y="175.43" font-size="13.2">Lipid</text>
<circle cx="478.5" cy="195.97" r="3.5" fill="#d4d000"/>
<text x="488.40" y="200.83" font-size="13.2">Nucleotide</text>
<circle cx="478.5" cy="222.07" r="3.5" fill="#808080"/>
<text x="488.40" y="226.93" font-size="13.2">Partially Characterized Molecules</text>
<circle cx="478.5" cy="246.62" r="3.5" fill="#10a010"/>
<text x="488.40" y="251.48" font-size="13.2">Peptide</text>
<circle cx="478.5" cy="271.42" r="3.5" fill="#d870d0"/>
<text x="488.40" y="276.28" font-size="13.2">Uncharacterized Molecules</text>
<circle cx="478.5" cy="296.82" r="3.5" fill="#9030ff"/>
<text x="488.40" y="301.68" font-size="13.2">Xenobiotics</text>
<text x="-0.41" y="432.32" font-size="17" font-weight="bold">b</text>
<line x1="111.20" y1="429.9" x2="111.20" y2="703.5" stroke="#e8e8e8" stroke-width="1.05"/>
<line x1="170.30" y1="429.9" x2="170.30" y2="703.5" stroke="#e8e8e8" stroke-width="1.05"/>
<line x1="229.40" y1="429.9" x2="229.40" y2="703.5" stroke="#e8e8e8" stroke-width="1.05"/>
<line x1="288.50" y1="429.9" x2="288.50" y2="703.5" stroke="#e8e8e8" stroke-width="1.05"/>
<line x1="347.60" y1="429.9" x2="347.60" y2="703.5" stroke="#e8e8e8" stroke-width="1.05"/>
<line x1="406.70" y1="429.9" x2="406.70" y2="703.5" stroke="#e8e8e8" stroke-width="1.05"/>
<line x1="57.7" y1="441.80" x2="454.7" y2="441.80" stroke="#e8e8e8" stroke-width="1.05"/>
<line x1="57.7" y1="482.10" x2="454.7" y2="482.10" stroke="#e8e8e8" stroke-width="1.05"/>
<line x1="57.7" y1="522.40" x2="454.7" y2="522.40" stroke="#e8e8e8" stroke-width="1.05"/>
<line x1="57.7" y1="562.70" x2="454.7" y2="562.70" stroke="#e8e8e8" stroke-width="1.05"/>
<line x1="57.7" y1="603.00" x2="454.7" y2="603.00" stroke="#e8e8e8" stroke-width="1.05"/>
<line x1="57.7" y1="643.30" x2="454.7" y2="643.30" stroke="#e8e8e8" stroke-width="1.05"/>
<line x1="57.7" y1="683.60" x2="454.7" y2="683.60" stroke="#e8e8e8" stroke-width="1.05"/>
<rect x="57.7" y="429.9" width="397.00" height="273.60" fill="none" stroke="#8f8f8f" stroke-width="1.1"/>
<line x1="57.2" y1="703.5" x2="455.2" y2="703.5" stroke="#333" stroke-width="1.4"/>
<line x1="55" y1="441.80" x2="57.7" y2="441.80" stroke="#333" stroke-width="1.1"/>
<text x="29.43" y="446.65" font-size="13">0.2</text>
<line x1="55" y1="522.40" x2="57.7" y2="522.40" stroke="#333" stroke-width="1.1"/>
<text x="40.28" y="527.15" font-size="13">0</text>
<line x1="55" y1="603.00" x2="57.7" y2="603.00" stroke="#333" stroke-width="1.1"/>
<text x="29.43" y="607.65" font-size="13">0.2</text>
<rect x="21.48" y="603.05" width="7.20" height="1.15" fill="#111"/>
<line x1="55" y1="683.60" x2="57.7" y2="683.60" stroke="#333" stroke-width="1.1"/>
<text x="29.43" y="688.65" font-size="13">0.4</text>
<rect x="21.48" y="684.05" width="7.20" height="1.15" fill="#111"/>
<line x1="111.20" y1="703.5" x2="111.20" y2="706.6" stroke="#333" stroke-width="1.1"/>
<text x="103.67" y="724.65" font-size="13">0.2</text>
<rect x="95.72" y="720.05" width="7.20" height="1.15" fill="#111"/>
<line x1="229.40" y1="703.5" x2="229.40" y2="706.6" stroke="#333" stroke-width="1.1"/>
<text x="227.16" y="724.65" font-size="13">0</text>
<line x1="347.60" y1="703.5" x2="347.60" y2="706.6" stroke="#333" stroke-width="1.1"/>
<text x="340.24" y="724.65" font-size="13">0.2</text>
<text x="218.79" y="746.31" font-size="13">PC1 (9.16%)</text>
<text transform="translate(10.60,568.00) rotate(-90)" font-size="13" text-anchor="middle">PC2 (6.88%)</text>
<circle cx="176.6" cy="442.7" r="2.65" fill="#5674c4"/>
<circle cx="143.8" cy="454.9" r="2.65" fill="#c2435c"/>
<circle cx="141.7" cy="459.0" r="2.65" fill="#5674c4"/>
<circle cx="165.4" cy="464.5" r="2.65" fill="#5674c4"/>
<circle cx="133.5" cy="474.8" r="2.65" fill="#c2435c"/>
<circle cx="140.7" cy="484.3" r="2.65" fill="#5674c4"/>
<circle cx="159.5" cy="483.5" r="2.65" fill="#c2435c"/>
<circle cx="103.9" cy="498.3" r="2.65" fill="#5674c4"/>
<circle cx="119.3" cy="496.4" r="2.65" fill="#c2435c"/>
<circle cx="178.1" cy="496.0" r="2.65" fill="#5674c4"/>
<circle cx="161.1" cy="507.6" r="2.65" fill="#5674c4"/>
<circle cx="139.4" cy="516.5" r="2.65" fill="#c2435c"/>
<circle cx="156.5" cy="515.0" r="2.65" fill="#c2435c"/>
<circle cx="109.2" cy="522.2" r="2.65" fill="#5674c4"/>
<circle cx="183.6" cy="531.7" r="2.65" fill="#c2435c"/>
<circle cx="107.0" cy="538.2" r="2.65" fill="#c2435c"/>
<circle cx="181.6" cy="539.0" r="2.65" fill="#c2435c"/>
<circle cx="236.5" cy="441.9" r="2.65" fill="#5674c4"/>
<circle cx="260.4" cy="442.4" r="2.65" fill="#c2435c"/>
<circle cx="249.5" cy="456.6" r="2.65" fill="#5674c4"/>
<circle cx="308.7" cy="463.4" r="2.65" fill="#5674c4"/>
<circle cx="228.1" cy="475.5" r="2.65" fill="#c2435c"/>
<circle cx="305.7" cy="475.2" r="2.65" fill="#c2435c"/>
<circle cx="241.2" cy="488.3" r="2.65" fill="#5674c4"/>
<circle cx="263.4" cy="489.6" r="2.65" fill="#5674c4"/>
<circle cx="295.3" cy="492.8" r="2.65" fill="#c2435c"/>
<circle cx="232.8" cy="501.4" r="2.65" fill="#c2435c"/>
<circle cx="238.7" cy="504.6" r="2.65" fill="#c2435c"/>
<circle cx="246.5" cy="507.1" r="2.65" fill="#5674c4"/>
<circle cx="271.2" cy="506.5" r="2.65" fill="#c2435c"/>
<circle cx="212.5" cy="515.6" r="2.65" fill="#c2435c"/>
<circle cx="284.8" cy="514.6" r="2.65" fill="#5674c4"/>
<circle cx="247.8" cy="518.4" r="2.65" fill="#5674c4"/>
<circle cx="249.0" cy="525.8" r="2.65" fill="#c2435c"/>
<circle cx="265.8" cy="524.5" r="2.65" fill="#c2435c"/>
<circle cx="298.7" cy="525.1" r="2.65" fill="#5674c4"/>
<circle cx="230.4" cy="532.0" r="2.65" fill="#5674c4"/>
<circle cx="243.4" cy="530.9" r="2.65" fill="#c2435c"/>
<circle cx="238.5" cy="537.5" r="2.65" fill="#c2435c"/>
<circle cx="252.9" cy="540.2" r="2.65" fill="#5674c4"/>
<circle cx="319.0" cy="455.8" r="2.65" fill="#c2435c"/>
<circle cx="329.4" cy="500.5" r="2.65" fill="#5674c4"/>
<circle cx="337.9" cy="508.0" r="2.65" fill="#5674c4"/>
<circle cx="320.7" cy="522.7" r="2.65" fill="#c2435c"/>
<circle cx="436.8" cy="500.3" r="2.65" fill="#c2435c"/>
<circle cx="419.5" cy="512.1" r="2.65" fill="#c2435c"/>
<circle cx="148.0" cy="543.9" r="2.65" fill="#c2435c"/>
<circle cx="166.7" cy="554.1" r="2.65" fill="#c2435c"/>
<circle cx="182.5" cy="565.7" r="2.65" fill="#5674c4"/>
<circle cx="196.6" cy="544.0" r="2.65" fill="#c2435c"/>
<circle cx="213.1" cy="545.0" r="2.65" fill="#5674c4"/>
<circle cx="247.1" cy="543.7" r="2.65" fill="#c2435c"/>
<circle cx="295.8" cy="548.2" r="2.65" fill="#5674c4"/>
<circle cx="219.7" cy="562.5" r="2.65" fill="#5674c4"/>
<circle cx="293.9" cy="578.8" r="2.65" fill="#5674c4"/>
<circle cx="269.3" cy="582.6" r="2.65" fill="#5674c4"/>
<circle cx="229.8" cy="593.4" r="2.65" fill="#c2435c"/>
<circle cx="244.2" cy="593.2" r="2.65" fill="#5674c4"/>
<circle cx="199.4" cy="604.8" r="2.65" fill="#5674c4"/>
<circle cx="249.1" cy="623.0" r="2.65" fill="#c2435c"/>
<circle cx="266.2" cy="625.7" r="2.65" fill="#c2435c"/>
<circle cx="349.0" cy="555.4" r="2.65" fill="#c2435c"/>
<circle cx="75.5" cy="650.6" r="2.65" fill="#5674c4"/>
<circle cx="272.5" cy="691.3" r="2.65" fill="#5674c4"/>
<circle cx="477.4" cy="469.7" r="3.3" fill="#0a70cc"/>
<circle cx="477.4" cy="490.7" r="3.3" fill="#c8000c"/>
<text x="487.50" y="473.45" font-size="13.2">dCPAP</text>
<text x="487.50" y="494.00" font-size="13.2">eCPAP</text>
<text x="0.01" y="787.59" font-size="17" font-weight="bold">c</text>
<line x1="116.4" y1="788.4" x2="116.4" y2="1049.6" stroke="#f1f3fa" stroke-width="1"/>
<line x1="189.7" y1="788.4" x2="189.7" y2="1049.6" stroke="#f1f3fa" stroke-width="1"/>
<line x1="263.4" y1="788.4" x2="263.4" y2="1049.6" stroke="#f1f3fa" stroke-width="1"/>
<line x1="410.4" y1="788.4" x2="410.4" y2="1049.6" stroke="#f1f3fa" stroke-width="1"/>
<line x1="68.9" y1="836.8" x2="457.6" y2="836.8" stroke="#f1f3fa" stroke-width="1"/>
<line x1="68.9" y1="880.6" x2="457.6" y2="880.6" stroke="#f1f3fa" stroke-width="1"/>
<line x1="68.9" y1="924.5" x2="457.6" y2="924.5" stroke="#f1f3fa" stroke-width="1"/>
<line x1="68.9" y1="968.5" x2="457.6" y2="968.5" stroke="#f1f3fa" stroke-width="1"/>
<line x1="68.9" y1="1012.6" x2="457.6" y2="1012.6" stroke="#f1f3fa" stroke-width="1"/>
<rect x="68.9" y="787.4" width="398.70" height="265.20" fill="none" stroke="#222" stroke-width="1.6"/>
<line x1="58" y1="792.6" x2="68.9" y2="792.6" stroke="#222" stroke-width="1.3"/>
<text x="37.51" y="797.51" font-size="12.6">15</text>
<line x1="58" y1="840.3" x2="68.9" y2="840.3" stroke="#222" stroke-width="1.3"/>
<text x="37.51" y="844.51" font-size="12.6">10</text>
<line x1="58" y1="883.4" x2="68.9" y2="883.4" stroke="#222" stroke-width="1.3"/>
<text x="44.51" y="888.01" font-size="12.6">5</text>
<line x1="58" y1="926.4" x2="68.9" y2="926.4" stroke="#222" stroke-width="1.3"/>
<text x="44.51" y="931.01" font-size="12.6">0</text>
<line x1="58" y1="969.6" x2="68.9" y2="969.6" stroke="#222" stroke-width="1.3"/>
<text x="44.51" y="974.51" font-size="12.6">5</text>
<rect x="36.76" y="970.05" width="7.00" height="1.15" fill="#111"/>
<line x1="58" y1="1012.6" x2="68.9" y2="1012.6" stroke="#222" stroke-width="1.3"/>
<text x="37.51" y="1017.51" font-size="12.6">10</text>
<rect x="29.76" y="1013.05" width="7.00" height="1.15" fill="#111"/>
<line x1="99.4" y1="1054" x2="99.4" y2="1059.7" stroke="#222" stroke-width="1.3"/>
<text x="96.61" y="1075.51" font-size="12.6">10</text>
<rect x="88.86" y="1071.05" width="7.00" height="1.15" fill="#111"/>
<line x1="170.4" y1="1054" x2="170.4" y2="1059.7" stroke="#222" stroke-width="1.3"/>
<text x="170.85" y="1075.51" font-size="12.6">5</text>
<rect x="163.10" y="1071.05" width="7.00" height="1.15" fill="#111"/>
<line x1="241.6" y1="1054" x2="241.6" y2="1059.7" stroke="#222" stroke-width="1.3"/>
<text x="238.27" y="1075.51" font-size="12.6">0</text>
<line x1="318.0" y1="1054" x2="318.0" y2="1059.7" stroke="#222" stroke-width="1.3"/>
<text x="309.00" y="1075.51" font-size="12.6">5</text>
<line x1="383.6" y1="1054" x2="383.6" y2="1059.7" stroke="#222" stroke-width="1.3"/>
<text x="376.76" y="1075.51" font-size="12.6">10</text>
<text x="191.21" y="1096.45" font-size="13.2">Comp1 (14.62% Variance)</text>
<text transform="translate(16.22,920.06) rotate(-90)" font-size="13.2" text-anchor="middle">Comp2 (11.83% Variance)</text>
<ellipse cx="185.59" cy="945.63" rx="135.82" ry="56.67" transform="rotate(-143.86 185.59 945.63)" fill="none" stroke="#e8707a" stroke-width="0.9" stroke-dasharray="1 1.2"/>
<ellipse cx="345.81" cy="901.23" rx="131.31" ry="50.97" transform="rotate(-145.65 345.81 901.23)" fill="none" stroke="#7fa8cc" stroke-width="0.9" stroke-dasharray="1 1.2"/>
<circle cx="169.0" cy="808.1" r="2.95" fill="#e4141c"/>
<circle cx="106.4" cy="857.6" r="2.95" fill="#e4141c"/>
<circle cx="131.6" cy="890.5" r="2.95" fill="#e4141c"/>
<circle cx="184.4" cy="892.8" r="2.95" fill="#e4141c"/>
<circle cx="127.3" cy="906.1" r="2.95" fill="#e4141c"/>
<circle cx="134.5" cy="915.2" r="2.95" fill="#e4141c"/>
<circle cx="117.2" cy="923.6" r="2.95" fill="#e4141c"/>
<circle cx="137.9" cy="922.3" r="2.95" fill="#e4141c"/>
<circle cx="143.2" cy="924.8" r="2.95" fill="#e4141c"/>
<circle cx="131.8" cy="927.3" r="2.95" fill="#e4141c"/>
<circle cx="160.1" cy="928.6" r="2.95" fill="#e4141c"/>
<circle cx="172.4" cy="932.4" r="2.95" fill="#e4141c"/>
<circle cx="118.9" cy="935.2" r="2.95" fill="#e4141c"/>
<circle cx="195.6" cy="939.4" r="2.95" fill="#e4141c"/>
<circle cx="147.4" cy="946.3" r="2.95" fill="#e4141c"/>
<circle cx="142.1" cy="953.8" r="2.95" fill="#e4141c"/>
<circle cx="151.4" cy="954.8" r="2.95" fill="#e4141c"/>
<circle cx="172.4" cy="951.2" r="2.95" fill="#e4141c"/>
<circle cx="182.7" cy="962.0" r="2.95" fill="#e4141c"/>
<circle cx="181.3" cy="973.9" r="2.95" fill="#e4141c"/>
<circle cx="195.8" cy="979.5" r="2.95" fill="#e4141c"/>
<circle cx="209.5" cy="979.1" r="2.95" fill="#e4141c"/>
<circle cx="225.1" cy="983.3" r="2.95" fill="#e4141c"/>
<circle cx="238.3" cy="991.2" r="2.95" fill="#e4141c"/>
<circle cx="155.2" cy="989.0" r="2.95" fill="#e4141c"/>
<circle cx="216.6" cy="910.6" r="2.95" fill="#e4141c"/>
<circle cx="229.1" cy="934.8" r="2.95" fill="#e4141c"/>
<circle cx="285.8" cy="993.9" r="2.95" fill="#e4141c"/>
<circle cx="277.9" cy="1005.4" r="2.95" fill="#e4141c"/>
<circle cx="269.0" cy="1016.1" r="2.95" fill="#e4141c"/>
<circle cx="294.6" cy="1028.4" r="2.95" fill="#e4141c"/>
<circle cx="346.7" cy="1017.4" r="2.95" fill="#e4141c"/>
<circle cx="210.8" cy="802.8" r="2.95" fill="#2f72b6"/>
<circle cx="253.8" cy="813.4" r="2.95" fill="#2f72b6"/>
<circle cx="277.5" cy="827.8" r="2.95" fill="#2f72b6"/>
<circle cx="293.1" cy="833.3" r="2.95" fill="#2f72b6"/>
<circle cx="310.1" cy="864.2" r="2.95" fill="#2f72b6"/>
<circle cx="293.1" cy="867.1" r="2.95" fill="#2f72b6"/>
<circle cx="292.6" cy="886.1" r="2.95" fill="#2f72b6"/>
<circle cx="407.6" cy="869.9" r="2.95" fill="#2f72b6"/>
<circle cx="345.0" cy="888.3" r="2.95" fill="#2f72b6"/>
<circle cx="397.8" cy="890.0" r="2.95" fill="#2f72b6"/>
<circle cx="326.4" cy="898.0" r="2.95" fill="#2f72b6"/>
<circle cx="328.2" cy="896.4" r="2.95" fill="#2f72b6"/>
<circle cx="339.2" cy="893.6" r="2.95" fill="#2f72b6"/>
<circle cx="355.1" cy="895.9" r="2.95" fill="#2f72b6"/>
<circle cx="356.5" cy="894.5" r="2.95" fill="#2f72b6"/>
<circle cx="370.7" cy="895.3" r="2.95" fill="#2f72b6"/>
<circle cx="275.8" cy="902.8" r="2.95" fill="#2f72b6"/>
<circle cx="298.7" cy="911.1" r="2.95" fill="#2f72b6"/>
<circle cx="268.4" cy="926.1" r="2.95" fill="#2f72b6"/>
<circle cx="358.4" cy="922.7" r="2.95" fill="#2f72b6"/>
<circle cx="369.1" cy="920.4" r="2.95" fill="#2f72b6"/>
<circle cx="345.7" cy="930.2" r="2.95" fill="#2f72b6"/>
<circle cx="407.6" cy="921.8" r="2.95" fill="#2f72b6"/>
<circle cx="422.8" cy="921.3" r="2.95" fill="#2f72b6"/>
<circle cx="425.4" cy="927.9" r="2.95" fill="#2f72b6"/>
<circle cx="356.7" cy="944.9" r="2.95" fill="#2f72b6"/>
<circle cx="389.4" cy="947.0" r="2.95" fill="#2f72b6"/>
<circle cx="391.3" cy="948.2" r="2.95" fill="#2f72b6"/>
<circle cx="412.5" cy="942.8" r="2.95" fill="#2f72b6"/>
<circle cx="423.8" cy="958.3" r="2.95" fill="#2f72b6"/>
<circle cx="411.8" cy="1002.7" r="2.95" fill="#2f72b6"/>
<circle cx="478.7" cy="834.3" r="3.3" fill="#1a70d0"/>
<circle cx="478.7" cy="855.1" r="3.3" fill="#ee1010"/>
<text x="488.50" y="837.95" font-size="13.2">dCPAP</text>
<text x="488.50" y="859.10" font-size="13.2">eCPAP</text>
</svg>
</body></html>
